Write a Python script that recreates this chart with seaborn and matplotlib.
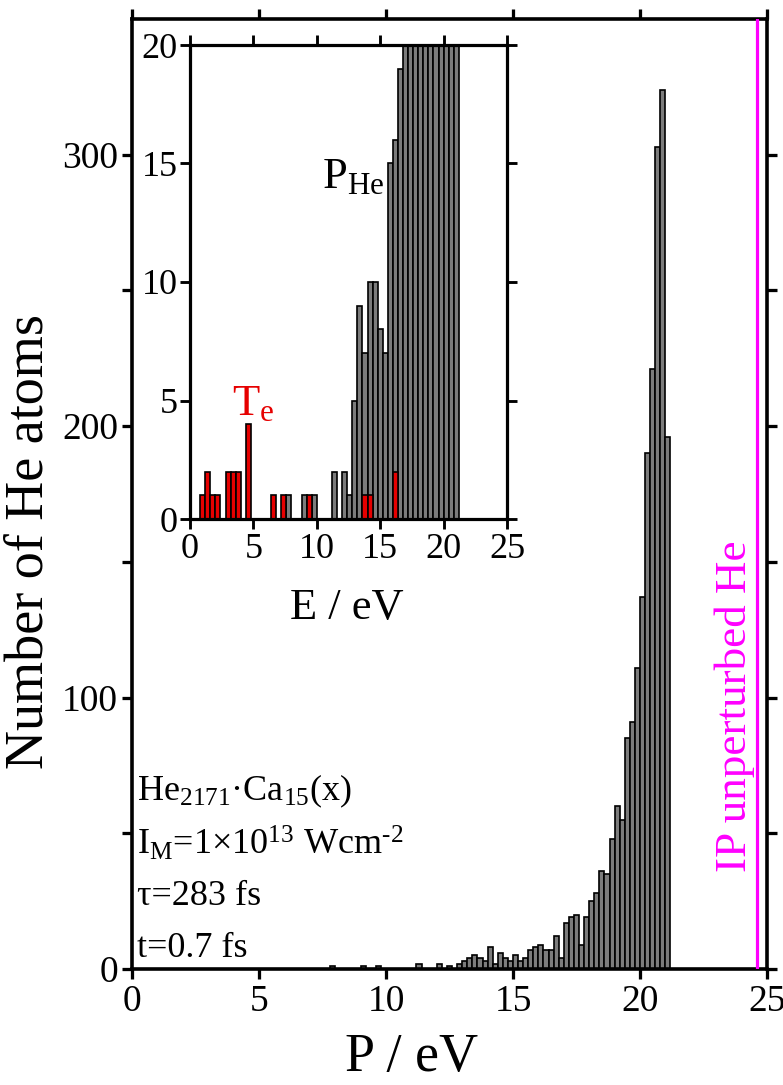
import matplotlib
matplotlib.use("Agg")
import matplotlib.pyplot as plt
import seaborn as sns

# He atom energies P, 0.2 eV bins: bin centres (eV) and number of atoms
p_energy = [7.9, 9.1, 9.7, 11.3, 12.1, 12.5, 12.9, 13.1, 13.3, 13.5, 13.7, 13.9,
            14.1, 14.3, 14.5, 14.7, 14.9, 15.1, 15.3, 15.5, 15.7, 15.9,
            16.1, 16.3, 16.5, 16.7, 16.9, 17.1, 17.3, 17.5, 17.7, 17.9,
            18.1, 18.3, 18.5, 18.7, 18.9, 19.1, 19.3, 19.5, 19.7, 19.9,
            20.1, 20.3, 20.5, 20.7, 20.9, 21.1]
p_count = [1, 1, 1, 2, 2, 1, 2, 3, 4, 5, 4, 3,
           8, 2, 6, 4, 3, 5, 3, 4, 7, 8,
           9, 7, 7, 12, 4, 17, 19, 20, 9, 19,
           25, 28, 36, 35, 48, 60, 55, 85, 91, 111,
           137, 190, 221, 303, 324, 196]

# electron kinetic energies T_e, 0.4 eV bins
te_energy = [1.0, 1.4, 1.8, 2.2, 3.0, 3.4, 3.8, 4.6, 6.6, 7.4, 9.4, 13.8, 14.2, 16.2]
te_count = [1, 2, 1, 1, 2, 2, 2, 4, 1, 1, 1, 1, 1, 2]

ip_he = 24.59  # ionisation potential of the free He atom

main_xticks = [0, 5, 10, 15, 20, 25]
main_yticks = [0, 50, 100, 150, 200, 250, 300]
main_yticklabels = ["0", "", "100", "", "200", "", "300"]
inset_xticks = [0, 5, 10, 15, 20, 25]
inset_yticks = [0, 5, 10, 15, 20]

GRAY = "#7c7c7c"
RED = "#e60000"
MAGENTA = "#ff00ff"

sns.set_style("ticks")
plt.rcParams["font.family"] = ["Liberation Serif", "DejaVu Serif"]
plt.rcParams["mathtext.fontset"] = "custom"
plt.rcParams["mathtext.rm"] = "Liberation Serif"
plt.rcParams["mathtext.it"] = "Liberation Serif:italic"
plt.rcParams["mathtext.bf"] = "Liberation Serif:bold"
for key in ("text.color", "axes.labelcolor", "xtick.color", "ytick.color",
            "axes.edgecolor"):
    plt.rcParams[key] = "black"

W, H = 783, 1085
fig = plt.figure(figsize=(W / 100, H / 100), dpi=100)


def frac(x0, y0, x1, y1):
    """pixel box (left, top, right, bottom) -> figure fraction rect"""
    return [x0 / W, 1 - y1 / H, (x1 - x0) / W, (y1 - y0) / H]


def style_axes(a, spine_w, labelsize):
    for s in a.spines.values():
        s.set_visible(True)
        s.set_linewidth(spine_w)
        s.set_color("black")
    a.tick_params(direction="out", length=7, width=spine_w * 0.9,
                  top=True, right=True, labeltop=False, labelright=False,
                  labelsize=labelsize, colors="black")


# ---- main panel ----
ax = fig.add_axes(frac(132, 19, 767, 969))
sns.histplot(x=p_energy, weights=p_count, binwidth=0.2, binrange=(0, 21.2),
             color=GRAY, edgecolor="black", linewidth=1.2, alpha=1, ax=ax)
ax.axvline(ip_he, color=MAGENTA, lw=2.3, zorder=3)
ax.set_xlim(0, 25)
ax.set_ylim(0, 350)
ax.set_xticks(main_xticks)
ax.set_yticks(main_yticks)
ax.set_yticklabels(main_yticklabels)
style_axes(ax, 2.6, 27)
ax.tick_params(axis="x", pad=4)
ax.tick_params(axis="y", pad=3)

ax.set_xlabel("P / eV", fontsize=39, va="center")
ax.xaxis.set_label_coords(0.441, -0.093)
ax.set_ylabel("Number of He atoms", fontsize=39, va="center")
ax.yaxis.set_label_coords(-0.162, 0.45)

ax.text(23.74, 97, "IP unperturbed He", color=MAGENTA, rotation=90,
        ha="center", va="center", fontsize=32.5)

info_kw = dict(ha="left", va="baseline", fontsize=26)
ax.text(0.2, 62.3, r"He$_{\rm 2171}$·Ca$_{\rm 15}$(x)", **info_kw)
ax.text(0.2, 42.0, r"I$_{\rm M}$=1×10$^{\rm 13}$ Wcm$^{\text{-2}}$", **info_kw)
ax.text(0.2, 23.6, "τ=283 fs", **info_kw)
ax.text(0.2, 4.4, "t=0.7 fs", **info_kw)

# ---- inset ----
axin = fig.add_axes(frac(190, 45, 507, 519))
axin.set_facecolor("white")
sns.histplot(x=p_energy, weights=p_count, binwidth=0.4, binrange=(0, 21.2),
             color=GRAY, edgecolor="black", linewidth=1.2, alpha=1, ax=axin)
sns.histplot(x=te_energy, weights=te_count, binwidth=0.4, binrange=(0, 16.4),
             color=RED, edgecolor="black", linewidth=1.2, alpha=1, ax=axin)
axin.set_xlim(0, 25)
axin.set_ylim(0, 20)
axin.set_xticks(inset_xticks)
axin.set_yticks(inset_yticks)
style_axes(axin, 2.3, 26)
axin.tick_params(axis="x", pad=3)
axin.tick_params(axis="y", pad=2)
axin.set_ylabel("")
axin.set_xlabel("E / eV", fontsize=32, va="center")
axin.xaxis.set_label_coords(0.495, -0.188)

axin.text(10.42, 13.97, r"P$_{\rm He}$", fontsize=32, ha="left", va="baseline")
axin.text(3.3, 4.39, r"T$_{\rm e}$", fontsize=32, color=RED, ha="left", va="baseline")

fig.savefig("out.png", dpi=100)
